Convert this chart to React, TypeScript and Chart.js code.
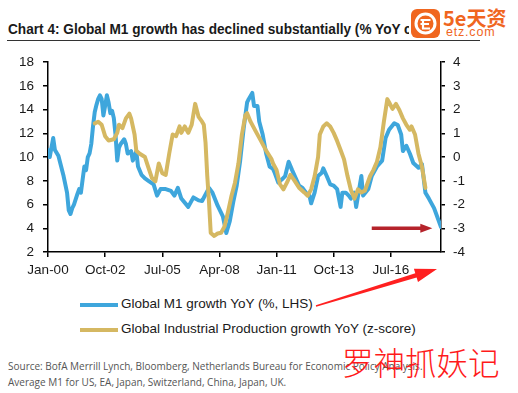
import React, { useEffect, useRef } from 'react';
import { Chart, registerables } from 'chart.js';

Chart.register(...registerables);

// Month index: 0 = Jan-00
const m1Months = [0,1,3,4,6,9,11,12,13,14,15,17,18,19,20,21,22,23,24,25,26,27,28,29,30,31,32,33,34,35,36,37,38,39,40,41,42,44,45,46,48,49,51,52,54,56,58,61,63,65,68,71,73,75,77,81,84,87,89,93,95,98,101,102,103,105,107,109,111,113,115,116,118,119,121,122,124,126,128,130,131,133,135,137,139,141,143,145,147,149,151,152,154,156,158,159,161,163,165,167,169,170,172,174,175,177,178,181,182,185,187,190,193,195,197,200,202,204,205,207,209,211,214,216,218,220,223,227];
const m1Values = [10.6,10.0,11.6,10.6,10.1,8.4,7.0,5.5,5.2,5.7,6.0,6.9,7.3,7.0,8.1,9.2,8.9,10.0,10.3,11.1,12.6,13.8,14.4,14.9,15.2,14.9,13.5,14.3,15.2,14.6,13.7,13.9,13.3,11.9,9.7,10.8,11.1,11.5,11.1,10.3,10.5,9.7,10.5,9.2,8.5,8.2,8.0,7.7,6.75,7.3,7.3,7.15,6.75,7.4,6.5,5.8,6.6,6.35,6.3,7.4,7.0,5.9,5.0,4.3,3.6,4.6,6.2,7.6,9.7,12.4,14.6,14.9,15.4,14.3,14.3,13.0,11.9,10.3,9.2,9.0,8.65,7.85,8.1,8.4,9.6,8.9,8.25,7.6,7.4,7.0,6.75,6.1,7.0,8.4,8.65,9.05,8.4,7.7,7.6,7.3,5.8,7.0,7.0,6.7,6.5,7.0,5.8,8.4,6.75,7.3,8.4,9.2,9.7,11.6,12.3,12.85,12.7,11.9,10.5,10.95,10.3,9.5,9.1,9.4,7.0,6.5,5.7,4.1];

const ipMonths = [27,29,31,33,35,38,40,41,43,45,47,48,50,51,53,56,58,60,62,64,66,68,70,72,74,76,77,79,81,83,85,87,89,90,91,92,93,94,96,98,100,102,104,106,108,110,112,114,115,117,120,123,126,129,130,132,134,136,138,140,142,145,148,150,152,154,156,157,159,161,163,165,167,169,171,173,175,177,179,181,183,184,186,188,190,192,194,196,197,199,201,203,205,207,209,210,212,214,216,218];
const ipValues = [1.42,1.49,1.36,0.88,0.70,0.75,1.02,1.36,1.22,1.63,1.83,1.63,0.95,0.27,0.14,0.0,-0.45,-0.88,-1.02,-0.27,-0.68,-0.75,0.14,0.95,0.88,1.29,1.02,1.29,1.02,1.36,2.24,1.69,1.49,1.36,0.6,-0.8,-1.9,-3.2,-3.32,-3.22,-3.19,-2.92,-2.3,-1.63,-1.08,-0.27,0.95,1.76,1.85,1.49,1.08,0.68,0.27,-0.07,-0.27,-0.54,-1.15,-1.36,-1.08,-0.75,-0.95,-1.29,-1.49,-1.63,-1.36,-0.81,0.0,0.95,1.29,1.42,1.29,1.02,0.68,0.3,-0.1,-0.8,-1.4,-1.75,-1.36,-1.49,-1.42,-1.22,-0.81,-0.54,-0.2,0.41,1.49,2.44,2.31,2.03,2.24,1.97,1.63,1.36,1.15,1.29,0.95,0.14,-0.41,-1.3];

const xTickMonths = [0, 33, 66, 99, 132, 165, 198];
const xTickLabels = ['Jan-00', 'Oct-02', 'Jul-05', 'Apr-08', 'Jan-11', 'Oct-13', 'Jul-16'];
const xRange = [0, 227];
const leftRange = [2, 18];
const rightRange = [-4, 4];
const arrowMonths = [187, 222];
const arrowLevel = -3;

const titleText = 'Chart 4: Global M1 growth has declined substantially (% YoY change)';
const m1Label = 'Global M1 growth YoY (%, LHS)';
const ipLabel = 'Global Industrial Production growth YoY (z-score)';
const sourceLines = [
  'Source: BofA Merrill Lynch, Bloomberg, Netherlands Bureau for Economic Policy Analysis.',
  'Average M1 for US, EA, Japan, Switzerland, China, Japan, UK.',
];

const BLUE = '#3ea6dc';
const GOLD = '#d5b862';
const AXIS_FONT = { family: '"Liberation Sans", Arial, sans-serif', size: 13.5 };

export default function App() {
  const ref = useRef<HTMLCanvasElement>(null);

  useEffect(() => {
    if (!ref.current) return;
    const arrowPlugin = {
      id: 'arrowPlugin',
      afterDatasetsDraw(chart: any) {
        const xs = chart.scales.x;
        const ys = chart.scales.y1;
        const x0 = xs.getPixelForValue(arrowMonths[0]);
        const x1 = xs.getPixelForValue(arrowMonths[1]);
        const yy = ys.getPixelForValue(arrowLevel);
        const ctx = chart.ctx;
        ctx.save();
        ctx.strokeStyle = '#b5232b';
        ctx.fillStyle = '#b5232b';
        ctx.lineWidth = 3.5;
        ctx.beginPath();
        ctx.moveTo(x0, yy);
        ctx.lineTo(x1 - 10, yy);
        ctx.stroke();
        ctx.beginPath();
        ctx.moveTo(x1, yy);
        ctx.lineTo(x1 - 12, yy - 4.5);
        ctx.lineTo(x1 - 12, yy + 4.5);
        ctx.closePath();
        ctx.fill();
        ctx.restore();
      },
    };

    const chart = new Chart(ref.current, {
      type: 'line',
      data: {
        datasets: [
          {
            label: ipLabel,
            data: ipMonths.map((m, i) => ({ x: m, y: ipValues[i] })),
            yAxisID: 'y1',
            borderColor: GOLD,
            backgroundColor: GOLD,
            borderWidth: 4,
            pointRadius: 0,
            tension: 0,
            borderJoinStyle: 'round',
            borderCapStyle: 'round',
          },
          {
            label: m1Label,
            data: m1Months.map((m, i) => ({ x: m, y: m1Values[i] })),
            yAxisID: 'y',
            borderColor: BLUE,
            backgroundColor: BLUE,
            borderWidth: 4,
            pointRadius: 0,
            tension: 0,
            borderJoinStyle: 'round',
            borderCapStyle: 'round',
          },
        ],
      },
      options: {
        responsive: false,
        animation: false,
        layout: { padding: { top: 10, left: 0, right: 0, bottom: 0 } },
        plugins: { legend: { display: false }, tooltip: { enabled: false } },
        scales: {
          x: {
            type: 'linear',
            min: xRange[0],
            max: xRange[1],
            afterBuildTicks: (s: any) => {
              s.ticks = xTickMonths.map((v) => ({ value: v }));
            },
            afterFit: (s: any) => {
              s.height = 33;
            },
            ticks: {
              autoSkip: false,
              maxRotation: 0,
              padding: 5,
              color: '#1a1a1a',
              font: AXIS_FONT,
              callback: (_v: any, i: number) => xTickLabels[i],
            },
            grid: { drawOnChartArea: false, drawTicks: true, tickLength: 5, color: '#000', lineWidth: 1.5 },
            border: { display: true, color: '#000', width: 1.5 },
          },
          y: {
            type: 'linear',
            position: 'left',
            min: leftRange[0],
            max: leftRange[1],
            afterFit: (s: any) => {
              s.width = 48;
            },
            ticks: { stepSize: 2, padding: 9, color: '#1a1a1a', font: AXIS_FONT },
            grid: { drawOnChartArea: false, drawTicks: true, tickLength: 5, color: '#000', lineWidth: 1.5 },
            border: { display: true, color: '#000', width: 1.5 },
          },
          y1: {
            type: 'linear',
            position: 'right',
            min: rightRange[0],
            max: rightRange[1],
            afterFit: (s: any) => {
              s.width = 77;
            },
            ticks: { stepSize: 1, padding: 8, color: '#1a1a1a', font: AXIS_FONT },
            grid: { drawOnChartArea: false, drawTicks: true, tickLength: 4, color: '#000', lineWidth: 1.5 },
            border: { display: true, color: '#000', width: 1.5 },
          },
        },
      },
      plugins: [arrowPlugin],
    } as any);
    return () => chart.destroy();
  }, []);

  const legendText: React.CSSProperties = {
    position: 'absolute',
    left: 121,
    fontSize: 13.5,
    lineHeight: '16px',
    color: '#1a1a1a',
    whiteSpace: 'nowrap',
  };

  return (
    <div
      style={{
        position: 'absolute',
        left: 0,
        top: 0,
        width: 518,
        height: 393,
        background: '#fff',
        overflow: 'hidden',
        fontFamily: '"Liberation Sans", Arial, sans-serif',
      }}
    >
      <div
        style={{
          position: 'absolute',
          left: 8,
          top: 20.5,
          fontFamily: '"Liberation Sans Narrow", "Liberation Sans", sans-serif',
          fontWeight: 'bold',
          fontSize: 14.5,
          lineHeight: '16px',
          color: '#1a1a1a',
          whiteSpace: 'nowrap',
          transform: 'scaleX(0.94)',
          transformOrigin: 'left top',
        }}
      >
        {titleText}
      </div>
      <div style={{ position: 'absolute', left: 7, top: 39.5, width: 473, height: 1.5, background: '#333' }} />

      {/* watermark */}
      <div style={{ position: 'absolute', left: 409, top: 5, width: 109, height: 34, background: '#fff' }} />
      <div
        style={{
          position: 'absolute',
          left: 411,
          top: 9,
          width: 29,
          height: 29,
          background: '#f0661f',
          borderRadius: 6,
        }}
      >
        <svg width={29} height={29} style={{ position: 'absolute', left: 0, top: 0 }}>
          <circle cx={14.5} cy={14.5} r={9.5} fill="none" stroke="#fff" strokeWidth={3} />
          <path d="M9.5 11 H19.5 M9.5 15 H18 M12 11 V20 M11 19.5 H19" stroke="#fff" strokeWidth={2.2} fill="none" />
        </svg>
      </div>
      <div
        style={{
          position: 'absolute',
          left: 443,
          top: 7,
          fontSize: 20,
          lineHeight: '22px',
          fontWeight: 'bold',
          color: '#f0661f',
          fontFamily: '"Noto Sans CJK SC", "Liberation Sans", sans-serif',
          whiteSpace: 'nowrap',
        }}
      >
        5e天资
      </div>
      <div
        style={{
          position: 'absolute',
          left: 446,
          top: 25,
          fontSize: 12.5,
          lineHeight: '14px',
          color: '#f0661f',
          letterSpacing: 0.8,
          whiteSpace: 'nowrap',
        }}
      >
        etz.com
      </div>

      <div style={{ position: 'absolute', left: 0, top: 45, width: 518, height: 240 }}>
        <canvas ref={ref} width={518} height={240} style={{ display: 'block' }} />
      </div>

      {/* legend */}
      <div style={{ position: 'absolute', left: 80, top: 302.5, width: 38, height: 4, background: BLUE }} />
      <div style={{ ...legendText, top: 295.5 }}>{m1Label}</div>
      <div style={{ position: 'absolute', left: 80, top: 327.5, width: 38, height: 4, background: GOLD }} />
      <div style={{ ...legendText, top: 320.5 }}>{ipLabel}</div>

      {/* source */}
      <div
        style={{
          position: 'absolute',
          left: 8,
          top: 359,
          fontFamily: '"Open Sans", sans-serif',
          fontSize: 10,
          lineHeight: '15.5px',
          color: '#555',
          whiteSpace: 'nowrap',
        }}
      >
        <div>{sourceLines[0]}</div>
        <div>{sourceLines[1]}</div>
      </div>

      <div
        style={{
          position: 'absolute',
          left: 342,
          top: 343,
          fontFamily: '"Noto Sans CJK SC", sans-serif',
          fontSize: 31.5,
          lineHeight: '36px',
          fontWeight: 300,
          color: '#ff1a1a',
          whiteSpace: 'nowrap',
        }}
      >
        罗神抓妖记
      </div>

      {/* red pointer arrow */}
      <svg width={518} height={393} style={{ position: 'absolute', left: 0, top: 0, pointerEvents: 'none' }}>
        <polygon
          points="316.2,306.8 416.6,277.5 418.0,282.1 437,269 413.9,268.7 415.3,273.3 315.8,305.2"
          fill="#ff2020"
        />
      </svg>
    </div>
  );
}
